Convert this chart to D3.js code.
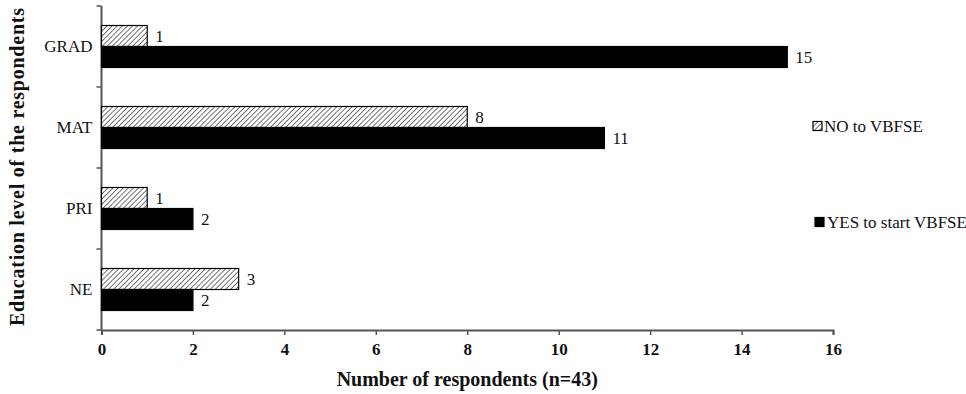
<!DOCTYPE html>
<html><head><meta charset="utf-8">
<script src="https://cdn.jsdelivr.net/npm/d3@7"></script>
<style>body{margin:0;background:#fff;}svg{display:block;}</style>
</head><body>
<svg id="chart" width="966" height="394"></svg>
<script>
const categories = ["GRAD", "MAT", "PRI", "NE"];
const seriesNames = ["NO to VBFSE", "YES to start VBFSE"];
const noValues = [1, 8, 1, 3];
const yesValues = [15, 11, 2, 2];
const xTicks = [0, 2, 4, 6, 8, 10, 12, 14, 16];
const xTitle = "Number of respondents (n=43)";
const yTitle = "Education level of the respondents";

const svg = d3.select("#chart");
const font = "'Liberation Serif', 'Times New Roman', serif";
const defs = svg.append("defs");
const pat = defs.append("pattern").attr("id", "hatch").attr("patternUnits", "userSpaceOnUse")
  .attr("width", 3.6).attr("height", 3.6).attr("patternTransform", "rotate(45)");
pat.append("rect").attr("width", 3.6).attr("height", 3.6).attr("fill", "#fff");
pat.append("line").attr("x1", 0).attr("y1", 0).attr("x2", 0).attr("y2", 3.6)
  .attr("stroke", "#444").attr("stroke-width", 1.5);

const x = d3.scaleLinear().domain([0, 16]).range([101.5, 833]);
const y = d3.scaleBand().domain(categories).range([6, 330]).paddingInner(0).paddingOuter(0);
const barH = 21;
const inner = d3.scaleBand().domain([0, 1])
  .range([y.bandwidth() / 2 - barH, y.bandwidth() / 2 + barH]).paddingInner(0).paddingOuter(0);

// x axis
const xAxis = svg.append("g").attr("transform", "translate(0,330)")
  .call(d3.axisBottom(x).tickValues(xTicks).tickSize(5).tickPadding(8));
xAxis.select(".domain").attr("stroke", "#555").attr("stroke-width", 2);
xAxis.selectAll(".tick line").attr("stroke", "#555").attr("stroke-width", 1.5);
xAxis.selectAll("text").attr("font-family", font).attr("font-size", 17).attr("font-weight", "bold").attr("fill", "#111");

// y axis with ticks at band boundaries
const yAxisG = svg.append("g").attr("transform", "translate(101.5,0)");
yAxisG.append("line").attr("x1", 0).attr("x2", 0).attr("y1", y.range()[0]).attr("y2", y.range()[1])
  .attr("stroke", "#555").attr("stroke-width", 2);
const bounds = categories.map(c => y(c)).concat([y.range()[1]]);
yAxisG.selectAll("line.tk").data(bounds).join("line").attr("class", "tk")
  .attr("x1", -5).attr("x2", 0).attr("y1", d => d).attr("y2", d => d)
  .attr("stroke", "#555").attr("stroke-width", 1.5);
yAxisG.selectAll("text").data(categories).join("text")
  .attr("x", -9).attr("y", d => y(d) + y.bandwidth() / 2).attr("dy", "0.35em")
  .attr("text-anchor", "end").attr("font-family", font).attr("font-size", 17).attr("fill", "#111")
  .text(d => d);

// bars
const series = [
  { name: seriesNames[0], values: noValues, fill: "url(#hatch)", idx: 0 },
  { name: seriesNames[1], values: yesValues, fill: "#000", idx: 1 }
];
series.forEach(s => {
  const g = svg.append("g");
  g.selectAll("rect").data(categories).join("rect")
    .attr("x", x(0)).attr("y", (c) => y(c) + inner(s.idx))
    .attr("width", (c, i) => x(s.values[i]) - x(0)).attr("height", inner.bandwidth())
    .attr("fill", s.fill).attr("stroke", "#000").attr("stroke-width", 1.2);
  g.selectAll("text").data(categories).join("text")
    .attr("x", (c, i) => x(s.values[i]) + 8).attr("y", c => y(c) + inner(s.idx) + inner.bandwidth() / 2)
    .attr("dy", "0.35em").attr("font-family", font).attr("font-size", 17).attr("fill", "#111")
    .text((c, i) => s.values[i]);
});

// titles
svg.append("text").attr("x", (x(0) + x(16)) / 2).attr("y", 386).attr("text-anchor", "middle")
  .attr("font-family", font).attr("font-size", 20).attr("font-weight", "bold").attr("fill", "#111").text(xTitle);
svg.append("text").attr("transform", "translate(24,167) rotate(-90)").attr("text-anchor", "middle")
  .attr("font-family", font).attr("font-size", 20).attr("font-weight", "bold").attr("fill", "#111")
  .attr("textLength", 318).attr("lengthAdjust", "spacing").text(yTitle);

// legend
const legY = [126, 222];
series.forEach((s, i) => {
  const g = svg.append("g").attr("transform", `translate(${i === 0 ? 813 : 815},${legY[i]})`);
  g.append("rect").attr("x", 0).attr("y", -4.5).attr("width", 9).attr("height", 9)
    .attr("fill", s.fill).attr("stroke", "#000").attr("stroke-width", 1.2);
  g.append("text").attr("x", i === 0 ? 11 : 12).attr("y", 0).attr("dy", "0.35em")
    .attr("font-family", font).attr("font-size", 17).attr("fill", "#111").text(s.name);
});
</script>
</body></html>
